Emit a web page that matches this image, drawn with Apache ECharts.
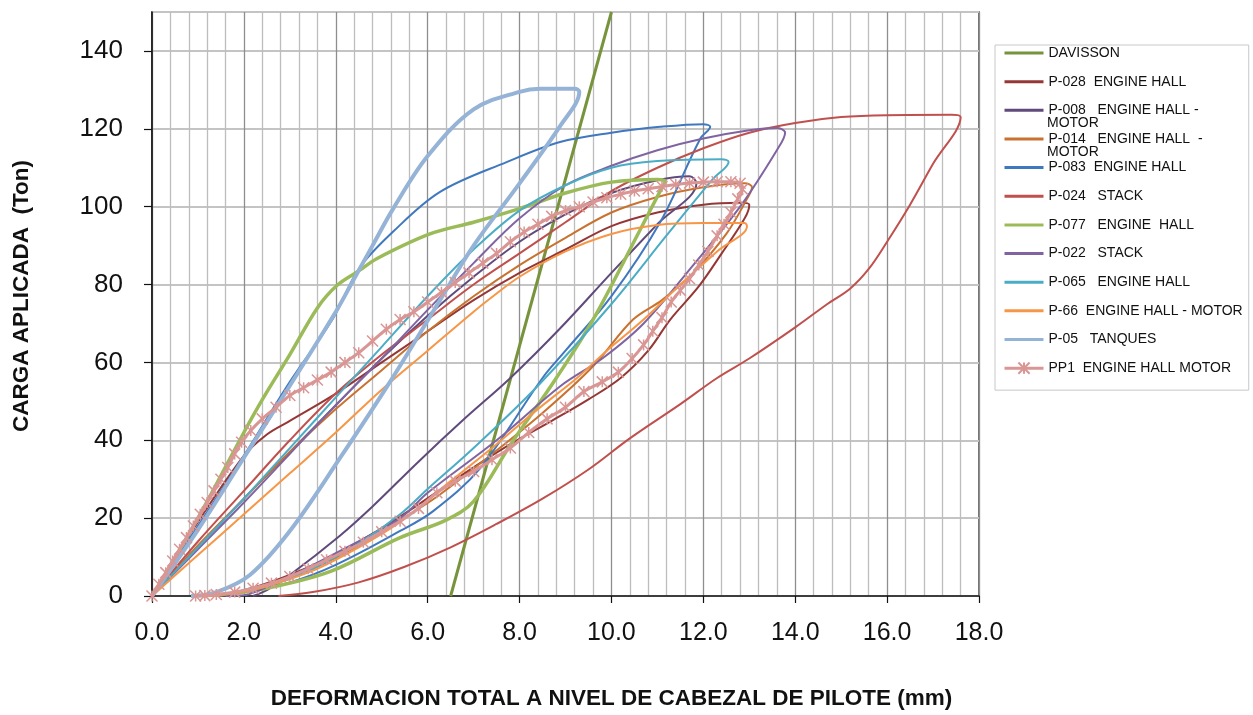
<!DOCTYPE html>
<html>
<head>
<meta charset="utf-8">
<script src="https://cdn.jsdelivr.net/npm/echarts@6/dist/echarts.min.js"></script>
<style>
  html, body { margin: 0; padding: 0; background: #fff; }
  #chart { width: 1253px; height: 715px; }
</style>
</head>
<body>
<div id="chart"></div>
<script>
// Load test curves: deformation (mm) vs applied load (Ton)
const davisson = [[6.5, 0], [10.0, 150]];

const p028 = [[0,0],[1,19],[2,36],[2.5,41.5],[3,45],[4,52],[5,60],[6,68],[7,76],[8,83],[9,89],[10,95],[11,98.5],[12,100.5],[12.8,101],
  [13.0,100.5],[12.9,97],[12.4,88],[11.9,79.5],[11.28,71],[10.8,63],[10.2,56],[9.5,50.5],[8.7,45],[7.8,39],[6.8,31.5],[5.8,23.5],[4.8,16],[3.8,9.5],[2.8,4.5],[2,1.5],[1.3,0]];

const p008 = [[0,0],[1,12.5],[2,25],[3,37],[4,49],[5,61],[6,72],[7,82],[8,91],[9,98],[10,103.5],[11,106.8],[11.7,107.8],
  [11.85,106],[11,95.5],[10,83],[8.88,68.7],[7.8,56],[6.8,45.5],[5.8,34.5],[4.8,23],[4.09,15.5],[3.0,5.4],[2.5,1.5],[2.2,0]];

const p014 = [[0,0],[1,13],[2,25],[3,37],[4,48],[5,58],[6,68],[7,77],[8,85],[9,92],[10,98.5],[11,102.5],[12,105],[12.9,106],
  [13.06,105],[12.95,102],[12.5,93],[11.78,83],[11.1,76],[10.47,71],[9.6,59],[8.5,47],[7.3,35.5],[6.2,25.5],[5.4,19.5],[4.5,13],[3.5,7],[2.5,2.8],[1.8,0.6],[1.3,0]];

const p083 = [[0,0],[1,18],[2,36],[3,55],[3.94,71.3],[4.5,84],[5.25,93.6],[6.27,103.8],[7.73,111.5],[8.88,116.6],[10,119],[11.06,120.5],[12.0,121.2],
  [12.15,120.5],[11.93,117.4],[11.06,96],[10,77],[9,63],[8.5,56],[7.14,32.8],[6.12,21.8],[5.4,16.7],[4,8],[3,3.5],[2,1],[1.1,0]];

const p024 = [[0,0],[1,14],[2,27],[3,40],[4,52],[5,62],[6,71],[7,80],[8,88],[9,96],[10,104],[11,110],[12,115],[13,119],[14,121.5],[15,123],[16,123.5],[17.4,123.6],
  [17.6,123],[17.0,111],[16.5,100.5],[16.0,91],[15.6,84],[15.2,79],[14.7,75],[14.0,69],[13.0,61],[12.3,56],[11.5,49.3],[10.4,40.5],[9.5,32.5],[8.5,25],[7.5,18.5],[6.5,12.5],[5.5,7.5],[4.5,3.5],[3.5,1],[2.75,0]];

const p077 = [[0,0],[1,20],[2,42],[2.42,50.8],[3,62],[3.6,74],[4.03,79.8],[4.5,83.5],[4.9,86.7],[6.05,93],[7,96],[8,99.5],[9,103.5],[10,106.3],[11.0,107],
  [11.17,106.5],[11.06,104],[10.6,93.5],[9.6,71],[8.8,56],[7.8,38.8],[7.0,24.3],[6.4,19.5],[5.4,15],[3.9,6.4],[2.5,2],[1.5,0.4],[0.85,0]];

const p022 = [[0,0],[1,12],[2,24],[3,36.5],[4,49],[5,61],[6,73.5],[7,85.5],[8,97],[9,105.5],[10,110.5],[11,114.5],[12,117.5],[13,119.6],[13.6,120.2],
  [13.78,119],[13.6,114.5],[12.8,100],[11.78,85],[10.7,70],[9.8,61],[8.9,54],[7.5,40],[6,26.5],[5.4,20],[4,11],[3,5],[2.4,1.8],[2.0,0.2],[1.6,0]];

const p065 = [[0,0],[1,12.5],[2,25],[3,38],[4,51],[5,64],[6,77],[7,89],[8,99],[9,105.5],[10,110],[11,111.7],[12.4,112.2],
  [12.55,111.5],[12.2,107],[11.2,92.6],[10,75],[8.4,54],[7,38],[6,27.5],[5.4,21],[4.5,13.5],[3.5,7],[2.5,2.5],[1.4,0]];

const p66 = [[0,0],[1,10.5],[2,21],[3,31.5],[4,42],[5,53],[6,63],[7,73],[7.36,76.4],[8,82],[9,88.5],[10,93],[11,95.3],[12,95.8],[12.9,95.8],
  [12.95,95],[12.3,88.5],[11.5,80],[10.7,71],[9.9,63],[9.25,56],[8.4,48],[7.5,39],[6.5,29.5],[5.4,19],[4.5,12.5],[3.5,6.5],[2.5,2.5],[1.8,0.7],[1.2,0]];

const p05 = [[0,0],[1,17],[2,35.5],[3,54],[4,73],[4.4,81.5],[4.8,90],[5.25,99.5],[6,113],[7,125],[8,129.5],[8.45,130.3],[9.2,130.3],
  [9.3,129.5],[8.9,121],[8.0,106],[7,90],[6.27,76],[5.18,55],[4.09,35.4],[3.0,16.7],[2.13,5.4],[1.4,1],[0.85,0]];

const pp1 = [[0,0],[0.15,3],[0.3,6],[0.45,9],[0.6,12],[0.75,15],[0.9,18],[1.05,21],[1.2,24],[1.35,27],[1.5,30],[1.65,33],[1.8,36.5],[1.95,39.5],
  [2.15,42.5],[2.4,45.5],[2.7,48.5],[3.0,51.5],[3.3,53.5],[3.6,55.5],[3.9,57.5],[4.2,60],[4.5,62.5],[4.8,65.5],[5.1,68.5],[5.4,71],[5.7,73],
  [6.0,75.5],[6.3,78],[6.6,80.5],[6.9,83],[7.2,85.5],[7.5,88],[7.8,91],[8.1,93.5],[8.4,95.5],[8.7,97.5],[9.0,99],[9.3,100],[9.6,101.2],
  [9.9,102.3],[10.2,103.2],[10.5,104],[10.8,104.6],[11.1,105.2],[11.4,105.7],[11.7,106.1],[12.0,106.3],[12.3,106.4],[12.6,106.4],[12.8,106.0],
  [12.85,104.5],[12.75,102],[12.6,98.5],[12.45,95.5],[12.3,92.5],[12.1,88.5],[11.9,85],[11.7,81.5],[11.5,78.5],[11.3,75.5],[11.1,71.5],
  [10.9,68],[10.7,64.5],[10.45,61],[10.15,57.5],[9.8,55],[9.4,52.5],[9.0,48.5],[8.6,45.5],[8.2,42],[7.8,38],[7.4,35],[7.0,32],[6.6,29.5],
  [6.2,26.5],[5.8,22.5],[5.4,19.2],[5.0,16.5],[4.6,13.8],[4.2,11.5],[3.8,9.3],[3.4,7],[3.0,5],[2.6,3.3],[2.2,2],[1.8,1],[1.4,0.4],[1.15,0.1],[0.95,0]];

// Series definitions: name, data, colour, line width
const seriesDefs = [
  { name: 'DAVISSON', data: davisson, color: '#77933C', width: 3 },
  { name: 'P-028  ENGINE HALL', data: p028, color: '#953735', width: 2 },
  { name: 'P-008   ENGINE HALL - MOTOR', data: p008, color: '#604A7B', width: 2 },
  { name: 'P-014   ENGINE HALL  - MOTOR', data: p014, color: '#C9722F', width: 2 },
  { name: 'P-083  ENGINE HALL', data: p083, color: '#4078BF', width: 2 },
  { name: 'P-024   STACK', data: p024, color: '#C0504D', width: 2 },
  { name: 'P-077   ENGINE  HALL', data: p077, color: '#9BBB59', width: 3.5 },
  { name: 'P-022   STACK', data: p022, color: '#8064A2', width: 2 },
  { name: 'P-065   ENGINE HALL', data: p065, color: '#4BACC6', width: 2 },
  { name: 'P-66  ENGINE HALL - MOTOR', data: p66, color: '#F79646', width: 2 },
  { name: 'P-05   TANQUES', data: p05, color: '#95B3D7', width: 4 },
  { name: 'PP1  ENGINE HALL MOTOR', data: pp1, color: '#D99694', width: 3, marker: true }
];

// Legend entries whose last word spills onto a second line, overlapping the next entry
const legendWrap = {
  'P-008   ENGINE HALL - MOTOR': ['P-008   ENGINE HALL -', 'MOTOR'],
  'P-014   ENGINE HALL  - MOTOR': ['P-014   ENGINE HALL  -', 'MOTOR']
};

const asterisk = 'path://M0,0L10,10M10,0L0,10M5,0L5,10';
const legendFont = '"Liberation Sans", Arial, sans-serif';

// Legend box geometry
const legendLeft = 995, legendTop = 45, legendPadTop = 1, legendPadLeft = 8;
const legendItemW = 39, legendItemH = 14, legendGap = 14.65;
const legendTextX = legendLeft + legendPadLeft + legendItemW + 5;

const overflowTexts = seriesDefs
  .map((s, i) => ({ s, i }))
  .filter(o => legendWrap[o.s.name])
  .map(o => ({
    type: 'text',
    x: legendTextX,
    y: legendTop + legendPadTop + legendItemH / 2 + o.i * (legendItemH + legendGap) + 13,
    z: 100,
    style: {
      text: legendWrap[o.s.name][1],
      fill: '#111',
      font: '14px ' + legendFont,
      verticalAlign: 'middle',
      align: 'left'
    }
  }));

const chart = echarts.init(document.getElementById('chart'), null, { renderer: 'canvas' });

chart.setOption({
  animation: false,
  backgroundColor: '#fff',
  grid: {
    left: 152, right: 274, top: 12, bottom: 117,
    show: true, borderColor: '#444', borderWidth: 1.5, backgroundColor: 'transparent'
  },
  legend: {
    orient: 'vertical',
    left: legendLeft, top: legendTop,
    padding: [legendPadTop, 6, 15, legendPadLeft],
    itemWidth: legendItemW, itemHeight: legendItemH, itemGap: legendGap,
    borderColor: '#c8c8c8', borderWidth: 1,
    lineStyle: { width: 3 },
    data: seriesDefs.map(s => s.marker ? { name: s.name } : { name: s.name, itemStyle: { opacity: 0 } }),
    formatter: name => legendWrap[name] ? legendWrap[name][0] : name,
    textStyle: { fontFamily: legendFont, fontSize: 14, color: '#111' }
  },
  graphic: overflowTexts,
  xAxis: {
    type: 'value', min: 0, max: 18, interval: 2,
    name: 'DEFORMACION TOTAL A NIVEL DE CABEZAL DE PILOTE (mm)',
    nameLocation: 'middle', nameGap: 91,
    nameTextStyle: {
      fontFamily: '"Liberation Sans", Arial, sans-serif', fontWeight: 'bold', fontSize: 22.5, color: '#111',
      padding: [0, 0, 0, 92]
    },
    axisLine: { show: true, onZero: false, lineStyle: { color: '#111', width: 1.5 } },
    axisTick: { show: true, length: 7, lineStyle: { color: '#111', width: 1.2 } },
    axisLabel: {
      margin: 25, color: '#111', fontSize: 25,
      fontFamily: '"Liberation Sans", Arial, sans-serif',
      formatter: v => v.toFixed(1)
    },
    splitLine: { show: true, lineStyle: { color: '#8e8e8e', width: 1.3 } },
    minorTick: { show: false, splitNumber: 5 },
    minorSplitLine: { show: true, lineStyle: { color: '#bdbdbd', width: 1.3 } }
  },
  yAxis: {
    type: 'value', min: 0, max: 150, interval: 20,
    name: 'CARGA APLICADA  (Ton)',
    nameLocation: 'middle', nameRotate: 90, nameGap: 119,
    nameTextStyle: {
      fontFamily: '"Liberation Sans", Arial, sans-serif', fontWeight: 'bold', fontSize: 22.5, color: '#111',
      padding: [0, 0, 0, 16]
    },
    axisLine: { show: true, onZero: false, lineStyle: { color: '#111', width: 1.5 } },
    axisTick: { show: true, length: 8, lineStyle: { color: '#111', width: 1.2 } },
    axisLabel: {
      margin: 29, color: '#111', fontSize: 26, showMaxLabel: false,
      fontFamily: '"Liberation Sans", Arial, sans-serif'
    },
    splitLine: { show: true, lineStyle: { color: '#c4c4c4', width: 2 } }
  },
  series: seriesDefs.map(s => ({
    name: s.name,
    type: 'line',
    data: s.data,
    smooth: 0.35,
    clip: true,
    symbol: s.marker ? asterisk : 'none',
    symbolSize: 11,
    showSymbol: !!s.marker,
    lineStyle: { color: s.color, width: s.width },
    itemStyle: { color: s.color, borderColor: s.color, borderWidth: 1.5 },
    emphasis: { disabled: true }
  }))
});
</script>
</body>
</html>
